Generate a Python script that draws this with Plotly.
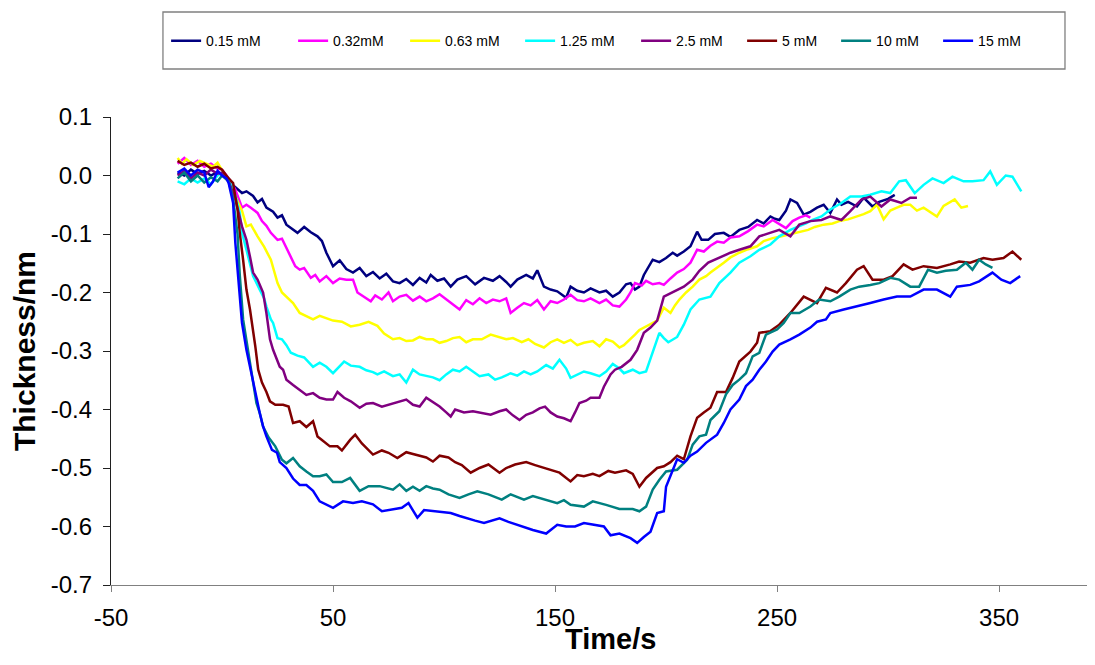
import plotly.graph_objects as go

labels = ["0.15 mM", "0.32mM", "0.63 mM", "1.25 mM", "2.5 mM", "5 mM", "10 mM", "15 mM"]
colors = ["#000080", "#FF00FF", "#FFFF00", "#00FFFF", "#800080", "#800000", "#008080", "#0000FF"]

t_015 = [-20,-17,-14,-11,-8,-5,-2,0,3,6,9,11,14,16,18,20,23,25,27,29,32,34,37,40,43,45,47,50,53,56,59,62,65,68,71,74,77,80,83,86,89,92,94,97,100,103,106,110,114,118,122,125,128,130,133,137,140,142,145,148,151,155,157,160,163,166,170,173,176,179,182,184,186,188,190,192,194,197,200,203,205,208,211,214,216,219,222,226,229,233,237,241,244,247,249,251,254,256,259,262,265,268,271,274,277,279,282,286,289,293,296,300,303]
y_015 = [0.005,0.0,0.01,0.003,0.008,0.0,0.006,0.002,-0.01,-0.02,-0.03,-0.027,-0.035,-0.046,-0.04,-0.055,-0.062,-0.072,-0.068,-0.084,-0.092,-0.098,-0.088,-0.097,-0.104,-0.112,-0.132,-0.155,-0.145,-0.16,-0.166,-0.158,-0.172,-0.165,-0.176,-0.168,-0.181,-0.184,-0.177,-0.187,-0.175,-0.183,-0.17,-0.18,-0.176,-0.19,-0.178,-0.172,-0.186,-0.175,-0.18,-0.172,-0.182,-0.19,-0.178,-0.17,-0.176,-0.162,-0.19,-0.195,-0.198,-0.209,-0.19,-0.197,-0.2,-0.193,-0.2,-0.197,-0.207,-0.2,-0.186,-0.184,-0.195,-0.19,-0.17,-0.158,-0.144,-0.148,-0.141,-0.132,-0.137,-0.13,-0.121,-0.096,-0.11,-0.11,-0.1,-0.098,-0.105,-0.093,-0.088,-0.076,-0.082,-0.07,-0.074,-0.076,-0.06,-0.041,-0.047,-0.067,-0.062,-0.055,-0.05,-0.064,-0.041,-0.05,-0.045,-0.053,-0.038,-0.053,-0.045,-0.04,-0.033]

t_032 = [-20,-17,-14,-11,-8,-5,-2,0,3,6,9,11,13,16,18,20,22,25,27,29,31,33,35,37,40,42,44,47,50,53,56,59,61,64,67,69,72,75,77,80,83,86,89,92,95,98,101,104,107,110,113,116,119,122,125,128,130,133,136,139,142,145,148,151,154,157,160,163,166,170,173,176,179,182,184,186,189,191,194,197,199,202,205,208,211,214,217,220,223,226,229,233,237,241,244,248,251,254,257,260,263,265]
y_032 = [0.02,0.03,0.018,0.025,0.015,0.02,0.012,0.01,-0.005,-0.024,-0.055,-0.05,-0.055,-0.064,-0.078,-0.086,-0.098,-0.11,-0.108,-0.124,-0.14,-0.155,-0.161,-0.158,-0.175,-0.17,-0.181,-0.172,-0.184,-0.176,-0.178,-0.178,-0.2,-0.207,-0.215,-0.205,-0.212,-0.2,-0.215,-0.207,-0.204,-0.214,-0.207,-0.215,-0.21,-0.203,-0.212,-0.22,-0.229,-0.213,-0.22,-0.21,-0.218,-0.212,-0.215,-0.21,-0.235,-0.226,-0.218,-0.222,-0.213,-0.229,-0.215,-0.218,-0.212,-0.204,-0.213,-0.215,-0.21,-0.218,-0.212,-0.222,-0.224,-0.212,-0.2,-0.184,-0.188,-0.18,-0.186,-0.184,-0.187,-0.176,-0.166,-0.16,-0.149,-0.127,-0.13,-0.12,-0.113,-0.115,-0.106,-0.104,-0.095,-0.084,-0.087,-0.076,-0.083,-0.09,-0.078,-0.072,-0.068,-0.072]

t_063 = [-20,-18,-16,-13,-10,-7,-4,-2,0,3,6,9,11,13,16,19,22,25,27,30,32,35,38,41,44,47,50,54,58,62,66,70,73,77,80,83,86,89,92,95,98,101,104,107,110,113,117,121,124,128,131,135,138,141,145,148,151,154,157,160,163,167,170,173,176,179,181,184,186,188,191,193,196,199,202,204,206,209,212,215,218,220,223,226,229,233,237,241,244,248,252,256,260,264,267,271,275,278,282,286,289,292,295,298,301,304,307,310,313,316,319,322,325,328,330,333,336]
y_063 = [0.03,0.02,0.028,0.018,0.025,0.02,0.015,0.022,0.01,-0.01,-0.036,-0.06,-0.087,-0.084,-0.104,-0.122,-0.144,-0.184,-0.2,-0.21,-0.218,-0.235,-0.24,-0.246,-0.24,-0.244,-0.248,-0.25,-0.258,-0.255,-0.25,-0.257,-0.27,-0.28,-0.278,-0.283,-0.282,-0.276,-0.28,-0.28,-0.286,-0.283,-0.278,-0.276,-0.285,-0.28,-0.28,-0.272,-0.276,-0.28,-0.278,-0.285,-0.28,-0.288,-0.294,-0.285,-0.28,-0.286,-0.281,-0.29,-0.286,-0.283,-0.292,-0.28,-0.284,-0.294,-0.29,-0.28,-0.272,-0.264,-0.258,-0.255,-0.248,-0.226,-0.235,-0.222,-0.212,-0.2,-0.19,-0.178,-0.172,-0.166,-0.158,-0.149,-0.14,-0.132,-0.126,-0.121,-0.112,-0.107,-0.104,-0.1,-0.096,-0.093,-0.088,-0.084,-0.082,-0.078,-0.075,-0.07,-0.066,-0.061,-0.05,-0.075,-0.06,-0.055,-0.05,-0.05,-0.06,-0.055,-0.062,-0.07,-0.052,-0.045,-0.041,-0.055,-0.052]

t_125 = [-20,-17,-14,-11,-8,-5,-2,0,3,5,8,9,11,14,17,19,20,22,23,25,27,29,31,34,37,39,41,44,47,50,52,55,58,62,65,68,70,73,77,80,83,86,89,92,95,98,101,104,107,110,113,116,120,123,126,130,133,136,139,142,146,149,152,155,157,160,163,166,170,173,176,179,181,185,188,191,194,197,199,201,205,208,211,215,220,224,229,233,238,242,247,251,256,260,263,266,270,274,279,283,288,292,297,301,305,308,312,316,320,325,329,334,338,343,346,349,353,356,360]
y_125 = [-0.01,-0.015,-0.005,-0.012,-0.005,-0.015,0.0,0.005,-0.01,-0.02,-0.064,-0.098,-0.127,-0.172,-0.195,-0.21,-0.224,-0.246,-0.252,-0.278,-0.28,-0.29,-0.303,-0.308,-0.311,-0.32,-0.327,-0.32,-0.327,-0.338,-0.33,-0.318,-0.325,-0.327,-0.333,-0.336,-0.34,-0.335,-0.343,-0.34,-0.354,-0.332,-0.34,-0.343,-0.345,-0.35,-0.34,-0.332,-0.335,-0.327,-0.335,-0.343,-0.34,-0.349,-0.345,-0.338,-0.342,-0.335,-0.34,-0.335,-0.324,-0.33,-0.315,-0.33,-0.346,-0.34,-0.335,-0.338,-0.343,-0.335,-0.322,-0.33,-0.338,-0.332,-0.338,-0.335,-0.303,-0.269,-0.278,-0.285,-0.276,-0.255,-0.229,-0.212,-0.207,-0.184,-0.166,-0.149,-0.138,-0.127,-0.118,-0.104,-0.093,-0.087,-0.082,-0.076,-0.07,-0.058,-0.047,-0.036,-0.036,-0.033,-0.027,-0.03,-0.01,-0.008,-0.03,-0.016,-0.005,-0.013,-0.002,-0.01,-0.01,-0.008,0.007,-0.016,0.0,-0.002,-0.027]

t_25 = [-20,-17,-14,-11,-8,-5,-2,0,3,6,9,11,12.6,14,16,18.5,20,21.6,23,26,27.5,29,32,35,38,41,44,47,50,52,55,58,62,65,68,72,75,78,80,83,86,89,92,95,98,101,103,105,109,113,117,121,125,128,131,134,137,140,143,145.5,148,151,154,157,159,161,164,166,170,172,175,177,180,184,187,190,193,196,199,203,208,212,215,219,224,229,233,238,242,247,251,256,260,265,270,274,279,283,288,292,297,301,306,310,313]
y_25 = [0.0,0.008,-0.005,0.005,0.0,0.01,0.003,0.005,-0.01,-0.041,-0.087,-0.11,-0.139,-0.166,-0.178,-0.2,-0.235,-0.28,-0.298,-0.327,-0.332,-0.349,-0.358,-0.366,-0.375,-0.372,-0.38,-0.383,-0.383,-0.37,-0.38,-0.386,-0.397,-0.39,-0.389,-0.395,-0.392,-0.388,-0.386,-0.383,-0.392,-0.395,-0.38,-0.388,-0.395,-0.405,-0.412,-0.4,-0.405,-0.403,-0.406,-0.409,-0.403,-0.4,-0.41,-0.418,-0.409,-0.405,-0.398,-0.395,-0.405,-0.412,-0.415,-0.42,-0.405,-0.389,-0.385,-0.38,-0.38,-0.361,-0.34,-0.332,-0.327,-0.315,-0.298,-0.269,-0.26,-0.248,-0.207,-0.2,-0.19,-0.178,-0.163,-0.149,-0.141,-0.132,-0.127,-0.121,-0.104,-0.098,-0.093,-0.104,-0.084,-0.078,-0.076,-0.07,-0.076,-0.061,-0.041,-0.036,-0.053,-0.041,-0.047,-0.038,-0.038]

t_5 = [-20,-17,-14,-11,-8,-5,-2,0,3,5,7,8,9.5,11,12.6,14,15,16.3,18,20,21.6,24,27.5,30,32,35,38,41,43,45,48.6,52,54,57.7,60,63,68,72,75,79,83,86,89,92,95,98,102,105,108,112,116,120,125,128,132,137,141,145,148,152,157,160,163,167,170,174,177,182,185,188,191,196,199,202,205,208,211,214,217,220,223,227,230,233,238,241,242,247,251,256,262,268,272,277,281,286,289,293,298,302,307,311,316,322,328,332,337,343,347,352,356,360]
y_5 = [0.025,0.018,0.022,0.015,0.02,0.012,0.015,0.01,-0.005,-0.013,-0.058,-0.098,-0.144,-0.195,-0.229,-0.263,-0.292,-0.332,-0.354,-0.37,-0.386,-0.392,-0.392,-0.395,-0.423,-0.42,-0.43,-0.42,-0.446,-0.452,-0.463,-0.463,-0.47,-0.452,-0.443,-0.458,-0.477,-0.47,-0.474,-0.483,-0.473,-0.476,-0.479,-0.482,-0.489,-0.479,-0.482,-0.49,-0.495,-0.508,-0.5,-0.494,-0.508,-0.5,-0.494,-0.49,-0.495,-0.5,-0.503,-0.508,-0.523,-0.512,-0.514,-0.51,-0.514,-0.505,-0.508,-0.504,-0.51,-0.532,-0.517,-0.5,-0.497,-0.49,-0.479,-0.485,-0.446,-0.414,-0.405,-0.397,-0.37,-0.37,-0.346,-0.318,-0.301,-0.286,-0.269,-0.266,-0.255,-0.235,-0.207,-0.218,-0.192,-0.2,-0.184,-0.161,-0.155,-0.178,-0.178,-0.172,-0.152,-0.161,-0.155,-0.158,-0.152,-0.147,-0.149,-0.141,-0.144,-0.141,-0.13,-0.144]

t_10 = [-20,-17,-14,-11,-8,-5,-2,0,3,5,7,8,9.5,11,13,15.5,17,18.5,21,24,27,29,32,35,38,41,44,47,50,54,57.7,62,66,71,77,80,83,86,89,92,95,98,102,107,111,115,120,126,130,136,140,143,147,151,154,157,163,167,173,179,185,188,191,194,197,200,205,209.5,212,215,218,220,224,227,230,233,236,239,242,245,250,253,256,260,265,269,274,278,283,287,292,296,301,305,310,314,318,322,326,331,335,338,341,344,347]
y_10 = [-0.005,0.005,-0.01,0.0,-0.012,-0.003,-0.01,0.0,-0.01,-0.04,-0.1,-0.17,-0.246,-0.28,-0.332,-0.389,-0.406,-0.429,-0.448,-0.463,-0.486,-0.492,-0.483,-0.497,-0.506,-0.514,-0.514,-0.511,-0.524,-0.524,-0.517,-0.539,-0.531,-0.531,-0.537,-0.528,-0.539,-0.532,-0.539,-0.531,-0.535,-0.537,-0.545,-0.551,-0.545,-0.54,-0.545,-0.554,-0.545,-0.554,-0.548,-0.551,-0.556,-0.56,-0.555,-0.563,-0.566,-0.557,-0.563,-0.57,-0.57,-0.574,-0.566,-0.537,-0.52,-0.506,-0.503,-0.486,-0.46,-0.446,-0.443,-0.418,-0.403,-0.374,-0.358,-0.349,-0.338,-0.309,-0.303,-0.272,-0.263,-0.252,-0.235,-0.235,-0.224,-0.212,-0.215,-0.207,-0.195,-0.19,-0.187,-0.184,-0.175,-0.178,-0.19,-0.19,-0.161,-0.166,-0.163,-0.161,-0.149,-0.161,-0.144,-0.152,-0.158]

t_15 = [-20,-17,-14,-11,-8,-6,-4,-2,0,2,3,5,6,7.5,9,11,12.6,14,15.7,17,18.5,20,22.5,24.8,26,29,32,35,38,41,44,47,50,54.5,59,63,68,72,77,81,84,88,91,95,99,103,107,110,114,118,121,125,129,133,137,140,146,151,155,159,163,168,172,175,179,184,187,190,193,196,199,200,203,205,208,211,214,218,223,226,229,233,236,239,242,245,248,251,256,260,265,268,272,274,280,286,292,298,304,310,316,322,328,331,337,341,347,351,355,359.5]
y_15 = [0.005,0.012,0.0,0.01,0.005,-0.02,-0.01,0.008,0.0,-0.005,-0.013,-0.047,-0.115,-0.184,-0.252,-0.298,-0.327,-0.354,-0.383,-0.406,-0.429,-0.446,-0.469,-0.474,-0.49,-0.5,-0.518,-0.529,-0.529,-0.539,-0.557,-0.562,-0.568,-0.557,-0.56,-0.557,-0.562,-0.574,-0.571,-0.568,-0.56,-0.585,-0.572,-0.574,-0.575,-0.577,-0.582,-0.586,-0.59,-0.594,-0.59,-0.586,-0.592,-0.597,-0.602,-0.606,-0.612,-0.597,-0.6,-0.6,-0.594,-0.598,-0.6,-0.615,-0.612,-0.62,-0.628,-0.618,-0.609,-0.577,-0.574,-0.532,-0.503,-0.485,-0.491,-0.479,-0.472,-0.457,-0.443,-0.423,-0.4,-0.383,-0.36,-0.349,-0.332,-0.318,-0.301,-0.289,-0.28,-0.272,-0.26,-0.25,-0.246,-0.235,-0.229,-0.224,-0.218,-0.212,-0.207,-0.207,-0.195,-0.195,-0.207,-0.19,-0.187,-0.181,-0.166,-0.178,-0.184,-0.172]

times = [t_015, t_032, t_063, t_125, t_25, t_5, t_10, t_15]
values = [y_015, y_032, y_063, y_125, y_25, y_5, y_10, y_15]
entry_widths = [82, 67, 70, 71, 61, 49, 57, 55]

x_ticks = [-50, 50, 150, 250, 350]
x_ticktext = ["-50", "50", "150", "250", "350"]
y_ticks = [0.1, 0.0, -0.1, -0.2, -0.3, -0.4, -0.5, -0.6, -0.7]
y_ticktext = ["0.1", "0.0", "-0.1", "-0.2", "-0.3", "-0.4", "-0.5", "-0.6", "-0.7"]

FONT = "Liberation Sans, Arial, sans-serif"

fig = go.Figure()
for lab, col, tx, ty, ew in zip(labels, colors, times, values, entry_widths):
    fig.add_trace(go.Scatter(x=tx, y=ty, mode="lines", name=lab,
                             line=dict(color=col, width=2.5),
                             legendwidth=ew))

# The page body has an 8px default margin, so the figure is sized to fit the window
fig.update_layout(
    width=1087, height=649,
    margin=dict(l=103, r=0, t=109, b=72, autoexpand=False),
    paper_bgcolor="white", plot_bgcolor="white",
    font=dict(family=FONT, color="black"),
    showlegend=True,
    legend=dict(orientation="h", x=0.056, xanchor="left", y=1.162, yanchor="middle",
                font=dict(size=14, family=FONT, color="black"),
                bgcolor="rgba(0,0,0,0)", borderwidth=0, itemwidth=30),
    shapes=[dict(type="rect", xref="paper", yref="paper",
                 x0=0.0528, x1=0.9695, y0=1.1026, y1=1.2244,
                 line=dict(color="#808080", width=1.3), fillcolor="rgba(0,0,0,0)")],
    annotations=[dict(text="<b>Time/s</b>", xref="paper", yref="paper", x=0.508, y=0,
                      xanchor="center", yanchor="top", yshift=-36, showarrow=False,
                      font=dict(size=29, family=FONT, color="black"))],
)

fig.update_xaxes(range=[-50, 393.2], tickvals=x_ticks, ticktext=x_ticktext, ticks="outside", ticklen=6,
                 tickcolor="#808080", showline=True, linecolor="#808080", linewidth=1.3,
                 showgrid=False, zeroline=False, automargin=False, ticklabelstandoff=5,
                 tickfont=dict(size=24, family=FONT, color="black"))
fig.update_yaxes(range=[-0.7, 0.1], tickvals=y_ticks, ticktext=y_ticktext, ticks="outside",
                 ticklen=7, tickcolor="#202020", showline=True, linecolor="#202020", linewidth=1.3,
                 showgrid=False, zeroline=False, automargin=False, ticklabelstandoff=6,
                 tickfont=dict(size=24, family=FONT, color="black"),
                 title=dict(text="<b>Thickness/nm</b>", font=dict(size=30, family=FONT, color="black"),
                            standoff=10))

fig.write_html("out.html")
